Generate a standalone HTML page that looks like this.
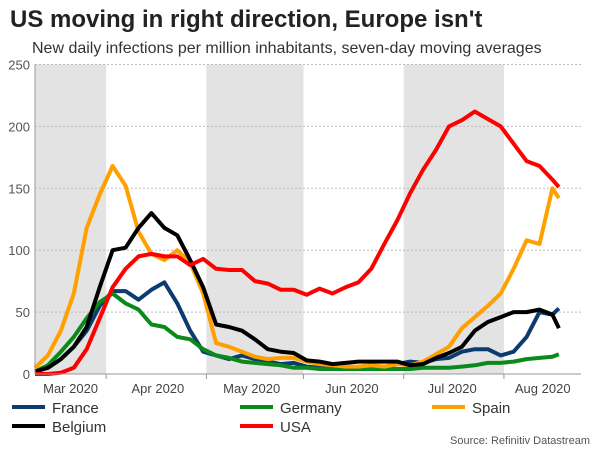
<!DOCTYPE html>
<html><head><meta charset="utf-8"><style>
body{margin:0;background:#fff;width:600px;height:450px;overflow:hidden;font-family:"Liberation Sans",sans-serif}
</style></head><body>
<svg id="c" width="600" height="450" xmlns="http://www.w3.org/2000/svg" font-family="Liberation Sans, sans-serif">
<text x="10" y="27" font-size="24" font-weight="bold" fill="#222">US moving in right direction, Europe isn't</text>
<text x="32" y="53" font-size="16" fill="#333">New daily infections per million inhabitants, seven-day moving averages</text>
<g id="bands"></g><g id="grid"></g><g id="series"></g><g id="axes"></g><g id="legend"></g>
<text x="590" y="444" font-size="11" fill="#555" text-anchor="end">Source: Refinitiv Datastream</text>
</svg>
<script>
const days=[0,4,8,12,16,20,24,28,32,36,40,44,48,52,56,60,64,68,72,76,80,84,88,92,96,100,104,108,112,116,120,124,128,132,136,140,144,148,152,156,160,162];
const france=[2,5,12,22,35,55,67,67,60,68,74,57,35,18,15,12,15,12,10,8,9,6,5,5,4,4,4,5,8,10,9,12,13,18,20,20,15,18,30,50,48,53];
const germany=[2,7,18,30,45,58,65,57,52,40,38,30,28,20,15,13,10,9,8,7,5,5,4,4,4,4,4,4,4,4,5,5,5,6,7,9,9,10,12,13,14,16];
const spain=[5,15,35,65,118,145,168,152,115,97,92,100,90,65,25,22,18,14,12,13,13,10,8,7,6,6,7,6,8,7,10,16,22,37,46,55,65,85,108,105,150,142];
const belgium=[2,5,12,22,38,70,100,102,118,130,118,112,92,70,40,38,35,28,20,18,17,11,10,8,9,10,10,10,10,7,8,13,17,22,35,42,46,50,50,52,48,37];
const usa=[0,0,1,5,20,45,70,85,95,97,95,95,88,93,85,84,84,75,73,68,68,64,69,65,70,74,85,105,124,146,165,181,200,205,212,206,200,186,172,168,157,151];
const yTicks=[0,50,100,150,200,250];
const monthTickDays=[22,53,83,114,145];
const monthLabels=["Mar 2020","Apr 2020","May 2020","Jun 2020","Jul 2020","Aug 2020"];
const monthLabelDays=[11,38,67,98,129,157];
const bandRanges=[[0,22],[53,83],[114,145]];
const seriesNames=["France","Germany","Spain","Belgium","USA"];
const seriesData=[france,germany,spain,belgium,usa];
const colors=["#0b3b6f","#0a8a1a","#ffa000","#000000","#ff0000"];
const NS="http://www.w3.org/2000/svg";
const X0=35,X1=581,Y0=374,Y250=64.5,DAYPX=3.234;
function xs(d){return X0+d*DAYPX;}
function ys(v){return Y0-(Y0-Y250)*v/250;}
function mk(t,a,p){const e=document.createElementNS(NS,t);for(const k in a)e.setAttribute(k,a[k]);document.getElementById(p).appendChild(e);return e;}
bandRanges.forEach(r=>{const e=mk('rect',{x:xs(r[0]),y:Y250,width:xs(r[1])-xs(r[0]),height:Y0-Y250,fill:'#e3e3e3'},'bands');

});
yTicks.forEach(v=>{if(v>0){const l=mk('line',{x1:X0,x2:X1,y1:ys(v),y2:ys(v),stroke:'#bbb','stroke-dasharray':'2,2','stroke-width':1},'grid');

}
const t=mk('text',{x:X0-5,y:ys(v)+5,'text-anchor':'end','font-size':13,fill:'#555'},'axes');t.textContent=v;

});
const ax=mk('path',{d:`M${X0},${Y250}V${Y0}H${X1}`,stroke:'#999',fill:'none','stroke-width':1},'axes');


monthTickDays.forEach(d=>{const l=mk('line',{x1:xs(d),x2:xs(d),y1:Y0,y2:Y0+5,stroke:'#999'},'axes');

});
monthLabels.forEach((m,i)=>{const t=mk('text',{x:xs(monthLabelDays[i]),y:393,'text-anchor':'middle','font-size':13,fill:'#444'},'axes');t.textContent=m;

});
seriesData.forEach((arr,i)=>{const d=arr.map((v,j)=>(j?'L':'M')+xs(days[j]).toFixed(1)+','+ys(v).toFixed(1)).join('');
const p=mk('path',{d:d,stroke:colors[i],fill:'none','stroke-width':4,'stroke-linejoin':'round'},'series');

});
const legPos=[[12,407],[240,407],[432,407],[12,426],[240,426]];
seriesNames.forEach((n,i)=>{const [x,y]=legPos[i];
const l=mk('line',{x1:x,x2:x+33,y1:y,y2:y,stroke:colors[i],'stroke-width':4},'legend');


const t=mk('text',{x:x+40,y:y+6,'font-size':15,fill:'#333'},'legend');t.textContent=n;

});
</script>
</body></html>
